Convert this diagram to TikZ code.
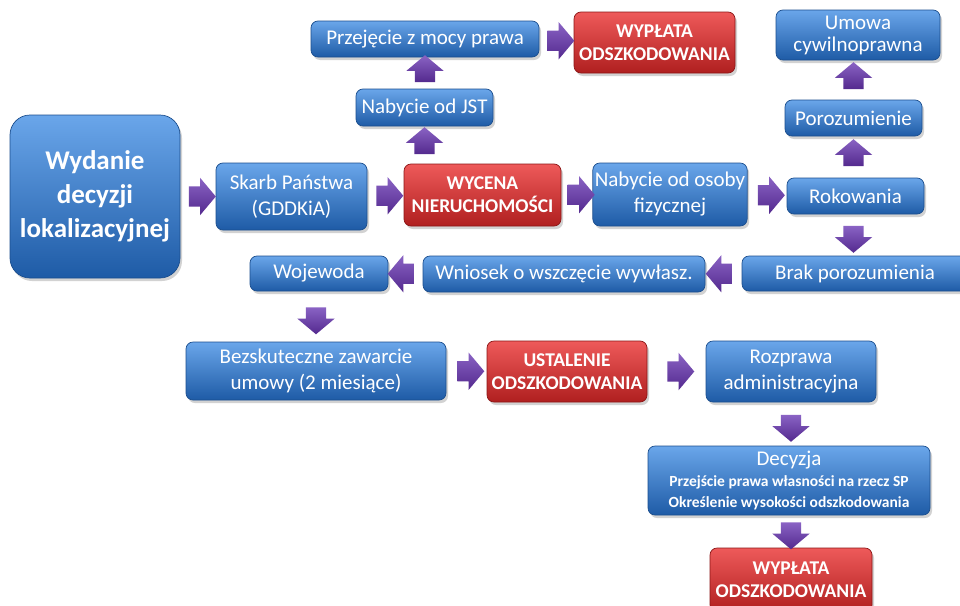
\documentclass[tikz,border=0pt]{standalone}
\usepackage{fontspec}
\setmainfont{Carlito}
\usetikzlibrary{shapes.arrows,shadows,calc}

\definecolor{bluetop}{HTML}{6AA6EA}
\definecolor{bluemid}{HTML}{3A7DD2}
\definecolor{bluebot}{HTML}{1E5BA6}
\definecolor{blueedge}{HTML}{1B4E8E}
\definecolor{redtop}{HTML}{EE5A5A}
\definecolor{redmid}{HTML}{D63A3A}
\definecolor{redbot}{HTML}{B01F1F}
\definecolor{rededge}{HTML}{8C1616}
\definecolor{purptop}{HTML}{8A63C4}
\definecolor{purpmid}{HTML}{A98ED8}
\definecolor{purpbot}{HTML}{53298E}

\tikzset{
  box/.style={rounded corners=7pt, draw=blueedge, line width=0.7pt,
    top color=bluetop, middle color=bluemid, bottom color=bluebot,
    text=white, align=center, inner sep=2pt,
    font=\fontsize{21}{26}\selectfont,
    drop shadow={shadow xshift=2pt, shadow yshift=-3pt, opacity=0.35}},
  redbox/.style={box, draw=rededge,
    top color=redtop, middle color=redmid, bottom color=redbot,
    font=\bfseries\fontsize{19.5}{23}\selectfont},
  arrowblk/.style={single arrow, draw=none, inner xsep=0pt, inner ysep=10pt,
    minimum height=27pt, single arrow head extend=8.5pt,
    single arrow tip angle=100,
    top color=purptop, middle color=purpmid, bottom color=purpbot},
}

\begin{document}
\begin{tikzpicture}[x=1pt,y=-1pt]
\clip (0,0) rectangle (960,605);
\fill[white] (0,0) rectangle (960,605);

% main row
\node[box, rounded corners=20pt, minimum width=170pt, minimum height=163pt,
  font=\bfseries\fontsize{27}{34}\selectfont] (wyd) at (95,196.5)
  {Wydanie\\decyzji\\lokalizacyjnej};
\node[box, minimum width=151pt, minimum height=67pt] (skarb) at (291.5,196.5)
  {Skarb Państwa\\(GDDKiA)};
\node[redbox, minimum width=157pt, minimum height=62pt] (wycena) at (482.5,195)
  {WYCENA\\NIERUCHOMOŚCI};
\node[box, minimum width=152pt, minimum height=63pt] (nabos) at (670,194.5)
  {Nabycie od osoby\\fizycznej};
\node[box, minimum width=137pt, minimum height=36pt] (rok) at (855.5,196)
  {Rokowania};

% upper branch
\node[box, minimum width=137pt, minimum height=37pt] (jst) at (424.5,107.5)
  {Nabycie od JST};
\node[box, minimum width=228pt, minimum height=36pt] (przej) at (425,39)
  {Przejęcie z mocy prawa};
\node[redbox, minimum width=161pt, minimum height=61pt] (wyp1) at (654.5,42.5)
  {WYPŁATA\\ODSZKODOWANIA};
\node[box, minimum width=137pt, minimum height=36pt] (poro) at (853.5,118)
  {Porozumienie};
\node[box, minimum width=164pt, minimum height=50pt,
  font=\fontsize{21}{22}\selectfont] (umowa) at (858,35)
  {Umowa\\cywilnoprawna};

% expropriation row
\node[box, minimum width=226pt, minimum height=35pt] (brak) at (855,273.5)
  {Brak porozumienia};
\node[box, minimum width=282pt, minimum height=36pt] (wniosek) at (564,274)
  {Wniosek o wszczęcie wywłasz.};
\node[box, minimum width=138pt, minimum height=35pt] (woj) at (319,273.5)
  {Wojewoda};

% lower row
\node[box, minimum width=260pt, minimum height=58pt] (bez) at (316,371)
  {Bezskuteczne zawarcie\\umowy (2 miesiące)};
\node[redbox, minimum width=160pt, minimum height=61pt] (ust) at (567,371.5)
  {USTALENIE\\ODSZKODOWANIA};
\node[box, minimum width=170pt, minimum height=61pt] (rozp) at (791,371.5)
  {Rozprawa\\administracyjna};
\node[box, minimum width=282pt, minimum height=69pt,
  font=\fontsize{21}{21}\selectfont] (dec) at (789,480.5)
  {Decyzja\\{\bfseries\fontsize{15.5}{20}\selectfont Przejście prawa własności na rzecz SP}\\
   {\bfseries\fontsize{15.5}{19}\selectfont Określenie wysokości odszkodowania}};
\node[redbox, minimum width=162pt, minimum height=64pt] (wyp2) at (791,580)
  {WYPŁATA\\ODSZKODOWANIA};

% block arrows between the boxes
\node[arrowblk] at ($(wyd.east)!0.5!(skarb.west)$) {};
\node[arrowblk] at ($(skarb.east)!0.5!(wycena.west)$) {};
\node[arrowblk] at ($(wycena.east)!0.5!(nabos.west)$) {};
\node[arrowblk] at ($(nabos.east)!0.5!(rok.west)$) {};
\node[arrowblk, rotate=90] at ($(jst.south)!0.5!(jst.south |- wycena.north)$) {};
\node[arrowblk, rotate=90] at ($(przej.south)!0.5!(przej.south |- jst.north)$) {};
\node[arrowblk] at ($(przej.east)!0.5!(wyp1.west)$) {};
\node[arrowblk, rotate=90] at ($(poro.south)!0.5!(poro.south |- rok.north)$) {};
\node[arrowblk, rotate=90] at ($(poro.north)!0.5!(poro.north |- umowa.south)$) {};
\node[arrowblk, rotate=-90] at ($(poro.south |- rok.south)!0.5!(poro.south |- brak.north)$) {};
\node[arrowblk, rotate=180] at ($(brak.west)!0.5!(wniosek.east)$) {};
\node[arrowblk, rotate=180] at ($(wniosek.west)!0.5!(woj.east)$) {};
\node[arrowblk, rotate=-90] at ($(bez.north |- woj.south)!0.5!(bez.north)$) {};
\node[arrowblk] at ($(bez.east)!0.5!(ust.west)$) {};
\node[arrowblk] at ($(ust.east)!0.5!(rozp.west)$) {};
\node[arrowblk, rotate=-90] at ($(rozp.south)!0.5!(rozp.south |- dec.north)$) {};
\node[arrowblk, rotate=-90] at ($(wyp2.north |- dec.south)!0.5!(wyp2.north)$) {};
\end{tikzpicture}
\end{document}
